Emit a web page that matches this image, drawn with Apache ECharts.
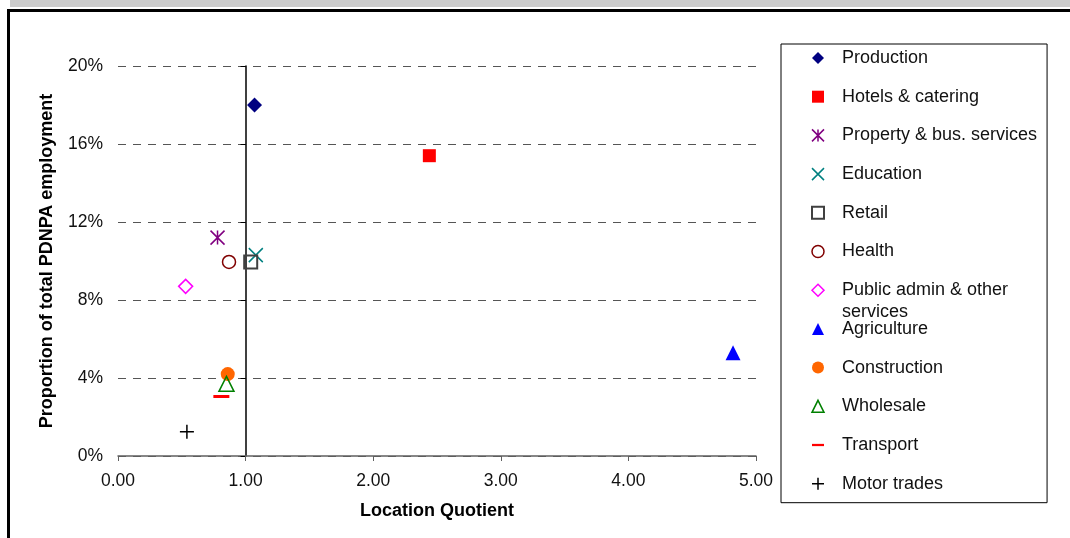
<!DOCTYPE html>
<html>
<head>
<meta charset="utf-8">
<script src="https://cdn.jsdelivr.net/npm/echarts@6/dist/echarts.min.js"></script>
<style>
html,body{margin:0;padding:0;background:#fff;}
#chart{width:1070px;height:538px;}
</style>
</head>
<body>
<div id="chart"></div>
<script>
// ---- data ----
const sectors = ['Production','Hotels & catering','Property & bus. services','Education','Retail','Health','Public admin & other services','Agriculture','Construction','Wholesale','Transport','Motor trades'];
const locationQuotient = [1.07, 2.44, 0.78, 1.08, 1.04, 0.87, 0.53, 4.82, 0.86, 0.85, 0.81, 0.54];
const employmentShare = [18.0, 15.4, 11.2, 10.3, 9.95, 9.95, 8.7, 5.3, 4.2, 3.7, 3.05, 1.25];
const xTicks = [0, 1, 2, 3, 4, 5];
const yTicks = [0, 4, 8, 12, 16, 20];

// ---- styles ----
const symbols = ['diamond','rect','path://M0,0L12,12M12,0L0,12M6,0L6,12','path://M0,0L12,12M12,0L0,12','rect','circle','diamond','triangle','circle','triangle','path://M0,0L16,0L16,3L0,3Z','path://M6,0L6,12M0,6L12,6'];
const sizes = [15, 13, 14, 14, 13, 13, 14, 15, 14, 15, 16, 14];
const styles = [
  {color:'#000080', opacity:1},
  {color:'#ff0000', opacity:1},
  {color:'rgba(0,0,0,0)', borderColor:'#800080', borderWidth:1.5, opacity:1},
  {color:'rgba(0,0,0,0)', borderColor:'#008080', borderWidth:1.5, opacity:1},
  {color:'rgba(0,0,0,0)', borderColor:'#404040', borderWidth:2, opacity:1},
  {color:'rgba(0,0,0,0)', borderColor:'#800000', borderWidth:1.5, opacity:1},
  {color:'rgba(0,0,0,0)', borderColor:'#ff00ff', borderWidth:1.5, opacity:1},
  {color:'#0000ff', opacity:1},
  {color:'#ff6600', opacity:1},
  {color:'rgba(0,0,0,0)', borderColor:'#008000', borderWidth:1.5, opacity:1},
  {color:'#ff0000', opacity:1},
  {color:'rgba(0,0,0,0)', borderColor:'#000000', borderWidth:1.5, opacity:1}
];
const legendLabels = {'Public admin & other services':'Public admin & other'};

const W = 1070, H = 538;
const gridL = 118, gridR = 314, gridT = 66, gridB = 82;
const xMin = xTicks[0], xMax = xTicks[xTicks.length-1];
const refX = 1; // vertical reference axis at LQ = 1
const plotW = W - gridL - gridR;
const refOffset = -plotW * (refX - xMin) / (xMax - xMin);

const FONT = '"Liberation Sans", Arial, sans-serif';

const series = sectors.map((name, i) => ({
  name: name,
  type: 'scatter',
  symbol: symbols[i],
  symbolSize: sizes[i],
  symbolKeepAspect: true,
  itemStyle: styles[i],
  emphasis: {disabled: true},
  data: [[locationQuotient[i], employmentShare[i]]]
}));

const chart = echarts.init(document.getElementById('chart'), null, {renderer:'canvas'});
chart.setOption({
  animation: false,
  backgroundColor: '#ffffff',
  textStyle: {fontFamily: FONT},
  grid: {left: gridL, right: gridR, top: gridT, bottom: gridB, containLabel: false, outerBoundsMode: 'none'},
  xAxis: {
    type: 'value',
    min: xMin, max: xMax, interval: 1,
    name: 'Location Quotient',
    nameLocation: 'middle',
    nameGap: 46,
    nameTextStyle: {fontFamily: FONT, fontSize: 18, fontWeight: 'bold', color: '#000'},
    axisLine: {show: true, onZero: false, lineStyle: {color: '#606060', width: 1.5}},
    axisTick: {show: true, length: 5, lineStyle: {color: '#606060', width: 1}},
    axisLabel: {margin: 16, fontFamily: FONT, fontSize: 17.5, color: '#111', formatter: v => v.toFixed(2)},
    splitLine: {show: false}
  },
  yAxis: [{
    type: 'value',
    min: yTicks[0], max: yTicks[yTicks.length-1], interval: 4,
    name: 'Proportion of total PDNPA employment',
    nameLocation: 'middle',
    nameGap: 62,
    nameTextStyle: {fontFamily: FONT, fontSize: 18, fontWeight: 'bold', color: '#000'},
    axisLine: {show: false},
    axisTick: {show: false},
    axisLabel: {margin: 15, fontFamily: FONT, fontSize: 17.5, color: '#111', formatter: v => v + '%'},
    splitLine: {show: true, lineStyle: {color: '#555', width: 1, type: [8, 7]}}
  }, {
    type: 'value',
    position: 'left',
    offset: refOffset,
    min: yTicks[0], max: yTicks[yTicks.length-1], interval: 4,
    axisLine: {show: true, onZero: false, lineStyle: {color: '#000', width: 1.5}},
    axisTick: {show: true, length: 5, lineStyle: {color: '#000', width: 1}},
    axisLabel: {show: false},
    splitLine: {show: false}
  }],
  legend: {
    orient: 'vertical',
    left: 781, top: 44,
    padding: [5, 10, 10, 30],
    borderColor: '#000', borderWidth: 1,
    itemWidth: 12, itemHeight: 12,
    itemGap: 20.7,
    selectedMode: false,
    textStyle: {fontFamily: FONT, fontSize: 18, color: '#111', lineHeight: 18, padding: [0, 0, 0, 13]},
    formatter: n => legendLabels[n] || n,
    data: sectors.map((n, i) => ({name: n, icon: symbols[i], itemStyle: styles[i]}))
  },
  graphic: [
    {type: 'rect', left: 10, top: 0, shape: {width: W - 10, height: 7}, style: {fill: '#cccccc'}, silent: true},
    {type: 'rect', left: 7, top: 9, shape: {width: 3, height: H - 9}, style: {fill: '#000'}, silent: true},
    {type: 'rect', left: 7, top: 9, shape: {width: W - 7, height: 3}, style: {fill: '#000'}, silent: true},
    {type: 'text', left: 842, top: 303, style: {text: 'services', font: '18px ' + FONT, fill: '#111'}, silent: true}
  ],
  series: series
});
</script>
</body>
</html>
